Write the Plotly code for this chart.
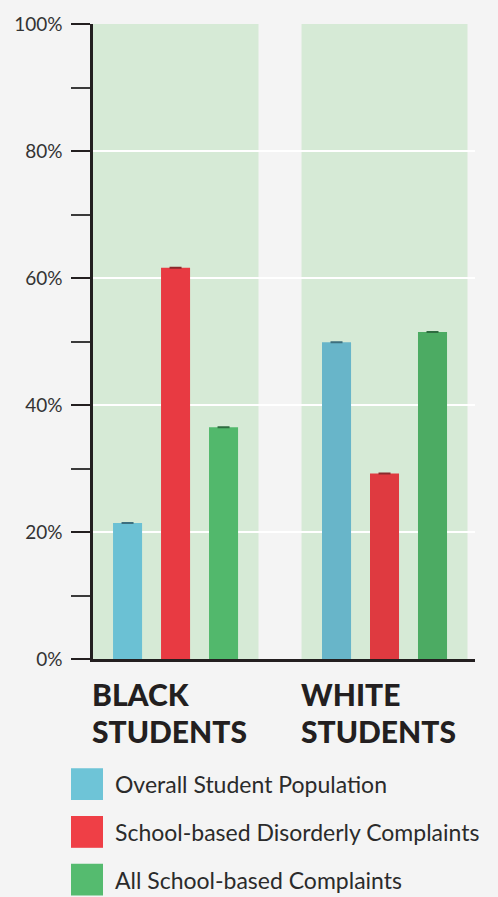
import plotly.graph_objects as go

categories = ["BLACK<br>STUDENTS", "WHITE<br>STUDENTS"]
series_names = ["Overall Student Population",
                "School-based Disorderly Complaints",
                "All School-based Complaints"]
overall_pop = [21.4, 49.9]
disorderly = [61.6, 29.2]
all_complaints = [36.5, 51.5]
tick_vals = [0, 20, 40, 60, 80, 100]
tick_labels = ["0%", "20%", "40%", "60%", "80%", "100%"]

values = [overall_pop, disorderly, all_complaints]
bar_colors = [["#6bc1d4", "#68b5c9"], ["#e83a42", "#df3a40"], ["#52b86c", "#4cab63"]]
cap_colors = ["#3d6f7e", "#8a2a2c", "#2e6c40"]
legend_colors = ["#6ec4d7", "#ef3f46", "#55bb6f"]

W, H = 498, 897
L, R, T, B = 93, 23, 20, 238
plot_w = W - L - R
plot_h = H - T - B
FONT = "Lato"
DARK = "#231f20"

def px_x(p):
    return (p - L) / plot_w

def px_y(p):
    return (H - B - p) / plot_h

fig = go.Figure()
for name, vals, cols, cc in zip(series_names, values, bar_colors, cap_colors):
    fig.add_trace(go.Bar(
        x=categories, y=vals, name=name, showlegend=False,
        marker=dict(color=cols, line=dict(width=0)),
        error_y=dict(type="data", array=[0] * len(vals), width=6,
                     thickness=2, color=cc),
        hoverinfo="skip",
    ))

shapes = []
for i in range(len(categories)):
    shapes.append(dict(type="rect", xref="x", yref="y", x0=i - 0.397, x1=i + 0.397,
                       y0=0, y1=100.2, fillcolor="#d6ead6", line=dict(width=0),
                       layer="below"))
# legend swatches
for k, c in enumerate(legend_colors):
    top = 769 + 48 * k
    shapes.append(dict(type="rect", xref="paper", yref="paper",
                       x0=px_x(71), x1=px_x(103), y0=px_y(top + 32), y1=px_y(top),
                       fillcolor=c, line=dict(width=0)))

annotations = []
for i, cat in enumerate(categories):
    for j, line in enumerate(cat.split("<br>")):
        annotations.append(dict(
            x=i, xref="x", xshift=-86, xanchor="left",
            y=px_y(694 + 37 * j), yref="paper", yanchor="middle",
            text=line, showarrow=False,
            font=dict(family=FONT, size=30, color=DARK, weight=900)))
for k, name in enumerate(series_names):
    annotations.append(dict(
        x=px_x(113), xref="paper", xanchor="left",
        y=px_y(785 + 48 * k), yref="paper", yanchor="middle",
        text=name, showarrow=False,
        font=dict(family=FONT, size=23, color="#2b2b2b")))

fig.update_layout(
    width=W, height=H,
    margin=dict(l=L, r=R, t=T, b=B, pad=0),
    paper_bgcolor="#f4f4f4", plot_bgcolor="#f4f4f4",
    barmode="group", bargap=0.311, bargroupgap=0.395,
    shapes=shapes, annotations=annotations,
    showlegend=False,
)
fig.update_xaxes(
    range=[-0.395, 1.433], showticklabels=False, ticks="",
    showgrid=False, showline=True, linecolor=DARK, linewidth=2.5,
    zeroline=False, fixedrange=True,
)
fig.update_yaxes(
    range=[0, 100], tickvals=tick_vals, ticktext=tick_labels,
    ticks="outside", ticklen=19, tickwidth=1.8, tickcolor=DARK,
    ticklabelstandoff=5,
    tickfont=dict(family=FONT, size=19, color="#333333"),
    showgrid=True, gridcolor="#ffffff", gridwidth=1.5,
    showline=True, linecolor=DARK, linewidth=2.5, zeroline=False,
    minor=dict(tickvals=[10, 30, 50, 70, 90], ticks="outside", ticklen=19,
               tickwidth=1.5, tickcolor="#3a3a3a", showgrid=False),
    fixedrange=True,
)

fig.write_html("out.html")
